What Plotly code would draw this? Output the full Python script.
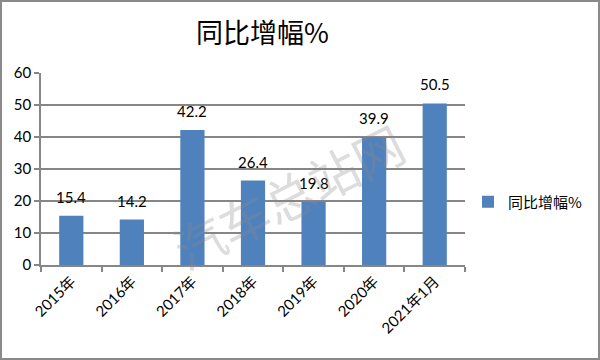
import plotly.graph_objects as go

categories = ["2015年", "2016年", "2017年", "2018年", "2019年", "2020年", "2021年1月"]
values = [15.4, 14.2, 42.2, 26.4, 19.8, 39.9, 50.5]
value_labels = ["15.4", "14.2", "42.2", "26.4", "19.8", "39.9", "50.5"]
y_ticks = [0, 10, 20, 30, 40, 50, 60]
series_name = "同比增幅%"
title_text = "同比增幅%"
watermark_text = "汽车总站网"

W, H = 600, 360
L, R, T, B = 41, 465, 73, 265  # plot area in pixels

def px_x(px):
    return (px - L) / (R - L)

def px_y(py):
    return (B - py) / (B - T)

FONT = "Lato, 'Noto Sans CJK SC', sans-serif"
CJK = "'Noto Sans CJK SC', sans-serif"

fig = go.Figure()
fig.add_trace(go.Bar(
    x=categories, y=values, name=series_name,
    marker=dict(color="#4F81BD", line=dict(width=0)),
    width=0.4,
))

annotations = []
for c, v, t in zip(categories, values, value_labels):
    annotations.append(dict(x=c, y=v, text=t, showarrow=False, yanchor="bottom",
                            yshift=8, font=dict(family=FONT, size=15, color="#000000")))

annotations.append(dict(xref="paper", yref="paper", x=px_x(262), y=px_y(31),
                        text=title_text, showarrow=False,
                        xanchor="center", yanchor="middle",
                        font=dict(family=CJK, size=27, color="#000000")))
annotations.append(dict(xref="paper", yref="paper", x=px_x(288), y=px_y(195),
                        text=watermark_text, showarrow=False, textangle=-27,
                        font=dict(family=CJK, size=50, color="rgba(140,140,140,0.3)")))

fig.update_layout(
    width=W, height=H,
    margin=dict(l=L, r=W - R, t=T, b=H - B, pad=0, autoexpand=False),
    paper_bgcolor="white", plot_bgcolor="white",
    bargap=0.6,
    showlegend=True,
    legend=dict(x=px_x(468), y=px_y(202), xanchor="left", yanchor="middle",
                font=dict(family=CJK, size=15, color="#000000"),
                itemwidth=30, bgcolor="rgba(0,0,0,0)"),
    xaxis=dict(type="category", automargin=False, showline=True, linecolor="#868686",
               linewidth=1.5, ticks="outside", tickson="boundaries", ticklen=5,
               tickcolor="#868686", tickwidth=1.5, tickangle=-45, showgrid=False,
               tickfont=dict(family=FONT, size=15, color="#000000")),
    yaxis=dict(range=[0, 60], tickvals=y_ticks, automargin=False, showline=True,
               linecolor="#868686", linewidth=1.5, ticks="outside", ticklen=5,
               tickcolor="#868686", tickwidth=1.5,
               showgrid=True, gridcolor="#868686", gridwidth=1.5, zeroline=False,
               tickfont=dict(family=FONT, size=15, color="#000000")),
    annotations=annotations,
    shapes=[dict(type="rect", xref="paper", yref="paper",
                 x0=px_x(1), x1=px_x(599), y0=px_y(1), y1=px_y(359),
                 line=dict(color="#8a8a8a", width=2), fillcolor="rgba(0,0,0,0)")],
)

fig.write_html("out.html", config={"displayModeBar": False},
               post_script="document.body.style.margin='0';document.body.style.overflow='hidden';")
